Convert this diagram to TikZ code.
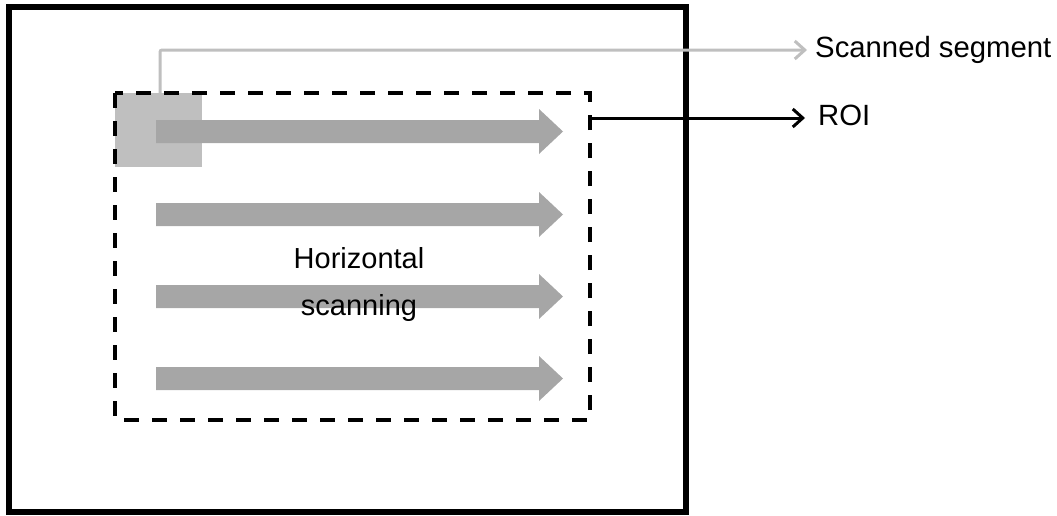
\documentclass[tikz,border=0pt]{standalone}
\usepackage{fontspec}
\setmainfont{Liberation Sans}
\usetikzlibrary{arrows.meta}
\definecolor{arrgray}{HTML}{A6A6A6}
\definecolor{seggray}{HTML}{BFBFBF}
\tikzset{
  frame/.style={draw=black, line width=5.5pt},
  roibox/.style={draw=black, line width=3.5pt, dash pattern=on 15pt off 13pt},
  segbox/.style={fill=seggray, draw=none, minimum width=87pt, minimum height=74pt, inner sep=0pt, outer sep=0pt},
  scanarrow/.style={fill=arrgray, draw=none},
  lbl/.style={font=\fontsize{29.3}{34}\selectfont, inner sep=0pt, text=black},
  segline/.style={draw=seggray, line width=3pt, rounded corners=2pt, -{Straight Barb[length=10pt,width=18pt,line width=3pt]}},
  roiline/.style={draw=black, line width=3pt, -{Straight Barb[length=10pt,width=18pt,line width=3pt]}},
}
\begin{document}
\begin{tikzpicture}[x=1pt,y=-1pt]
\useasboundingbox (0,0) rectangle (1057,515);
% outer frame
\draw[frame] (9,7) rectangle (686,512);
% scanned segment square
\node[segbox, anchor=north west] (seg) at (115,93) {};
% scanning arrows
\foreach \yy/\nm in {131.5/a1,214.5/a2,296.5/a3,378.5/a4}{
  \fill[scanarrow] (156,\yy-11.5) -- (539,\yy-11.5) -- (539,\yy-22.5) -- (563,\yy) -- (539,\yy+22.5) -- (539,\yy+11.5) -- (156,\yy+11.5) -- cycle;
}
% ROI dashed box
\draw[roibox] (115,93) rectangle (590,420);
\coordinate (roiE) at (590,118);
\coordinate (segN) at (160,93);
% labels
\node[lbl, anchor=base west] (sslbl) at (815,57) {Scanned segment};
\node[lbl, anchor=base west] (roilbl) at (818,125) {ROI};
\node[lbl, anchor=base, font=\fontsize{29}{34}\selectfont] (hz) at (359,268) {Horizontal};
\node[lbl, anchor=base, font=\fontsize{29}{34}\selectfont] (sc) at (359,315) {scanning};
% connectors
\coordinate (ssend) at (807,50);
\coordinate (roiend) at (805,118);
\draw[segline] (segN) -- (160,50) -- (ssend);
\draw[roiline] (roiE) -- (roiend);
\end{tikzpicture}
\end{document}
